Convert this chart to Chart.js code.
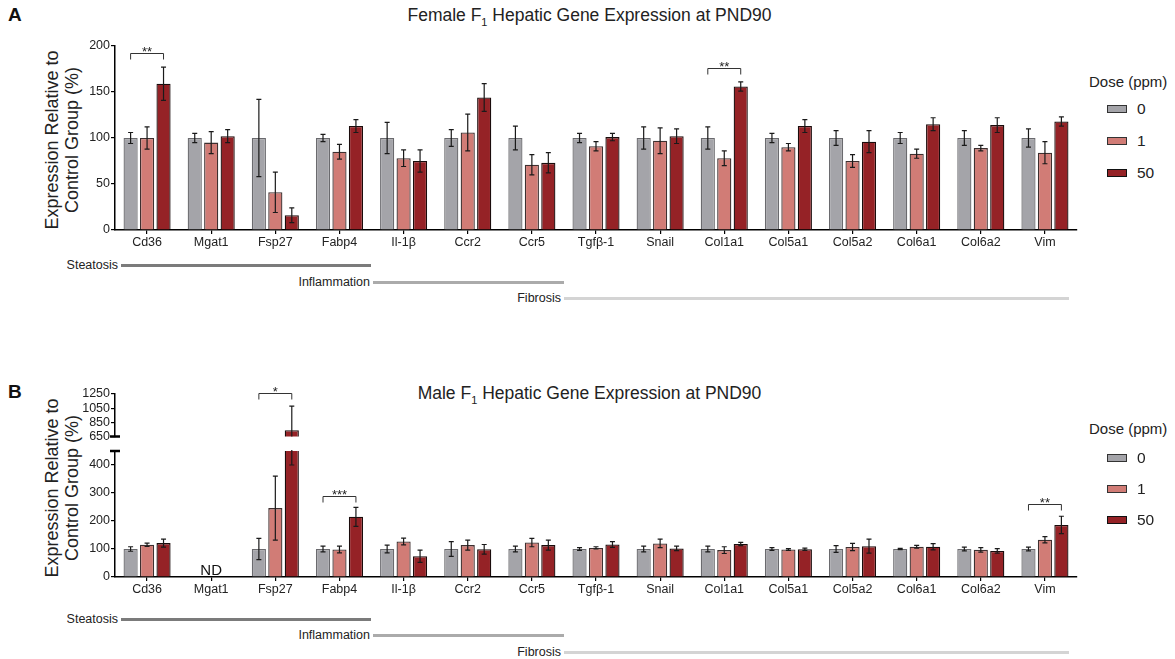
<!DOCTYPE html>
<html>
<head>
<meta charset="utf-8">
<script src="https://cdn.jsdelivr.net/npm/chart.js@4"></script>
<style>
body { margin: 0; width: 1175px; height: 659px; position: relative; background: #fff; overflow: hidden;
  font-family: Arial, "Liberation Sans", sans-serif; color: #222; }
canvas { position: absolute; }
.title { position: absolute; left: 0; width: 1179px; text-align: center; font-size: 17.5px; line-height: 20px; }
.title sub { font-size: 11px; line-height: 0; }
.panel { position: absolute; left: 8px; font-weight: bold; font-size: 19px; line-height: 22px; color: #111; }
.ytitle { position: absolute; width: 240px; height: 40px; font-size: 18px; line-height: 20px; text-align: center;
  transform: rotate(-90deg); white-space: nowrap; }
.leg-title { position: absolute; left: 1089px; font-size: 15px; line-height: 18px; }
.leg-box { position: absolute; left: 1107px; width: 20px; height: 8px; box-sizing: border-box; border: 1.5px solid #333; }
.leg-lbl { position: absolute; left: 1137px; font-size: 15.5px; line-height: 18px; }
.grp-lbl { position: absolute; left: 0; text-align: right; font-size: 12.5px; line-height: 16px; }
.grp-line { position: absolute; }
</style>
</head>
<body>

<div class="panel" style="top:4px">A</div>
<div class="title" style="top:5px">Female F<sub>1</sub> Hepatic Gene Expression at PND90</div>
<div class="ytitle" style="left:-58px;top:120px">Expression Relative to<br>Control Group (%)</div>
<canvas id="chartA" width="1032" height="216" style="left:55px;top:36px"></canvas>

<div class="leg-title" style="top:73px">Dose (ppm)</div>
<div class="leg-box" style="top:105px;background:#a4a4a9"></div><div class="leg-lbl" style="top:100px">0</div>
<div class="leg-box" style="top:137px;background:#d17c76"></div><div class="leg-lbl" style="top:132px">1</div>
<div class="leg-box" style="top:169px;background:#952226;border-color:#111"></div><div class="leg-lbl" style="top:164px">50</div>

<div class="grp-lbl" style="width:118px;top:257px">Steatosis</div>
<div class="grp-line" style="left:121px;top:264px;width:250px;height:3px;background:#7b7b7b"></div>
<div class="grp-lbl" style="width:370px;top:274px">Inflammation</div>
<div class="grp-line" style="left:373px;top:281px;width:191px;height:2.5px;background:#ababab"></div>
<div class="grp-lbl" style="width:561px;top:290px">Fibrosis</div>
<div class="grp-line" style="left:564px;top:297px;width:505px;height:2.5px;background:#d4d4d4"></div>

<div class="panel" style="top:381px">B</div>
<div class="title" style="top:383px">Male F<sub>1</sub> Hepatic Gene Expression at PND90</div>
<div class="ytitle" style="left:-58px;top:468px">Expression Relative to<br>Control Group (%)</div>
<canvas id="chartBHigh" width="1032" height="71" style="left:55px;top:374px"></canvas>
<canvas id="chartBLow" width="1032" height="158" style="left:55px;top:441px"></canvas>

<div class="leg-title" style="top:420px">Dose (ppm)</div>
<div class="leg-box" style="top:454px;background:#a4a4a9"></div><div class="leg-lbl" style="top:449px">0</div>
<div class="leg-box" style="top:485px;background:#d17c76"></div><div class="leg-lbl" style="top:480px">1</div>
<div class="leg-box" style="top:516px;background:#952226;border-color:#111"></div><div class="leg-lbl" style="top:511px">50</div>

<div class="grp-lbl" style="width:118px;top:611px">Steatosis</div>
<div class="grp-line" style="left:121px;top:618px;width:250px;height:3px;background:#7b7b7b"></div>
<div class="grp-lbl" style="width:370px;top:627px">Inflammation</div>
<div class="grp-line" style="left:373px;top:634px;width:191px;height:2.5px;background:#ababab"></div>
<div class="grp-lbl" style="width:561px;top:644px">Fibrosis</div>
<div class="grp-line" style="left:564px;top:651px;width:505px;height:2.5px;background:#d4d4d4"></div>

<script>
// Data
const genes = ['Cd36', 'Mgat1', 'Fsp27', 'Fabp4', 'Il-1β', 'Ccr2', 'Ccr5', 'Tgfβ-1', 'Snail', 'Col1a1', 'Col5a1', 'Col5a2', 'Col6a1', 'Col6a2', 'Vim'];
const doses = ['0', '1', '50'];

// Female means and error bars (% of control)
const femaleDose0  = [100, 100, 100, 100, 100, 100, 100, 100, 100, 100, 100, 100, 100, 100, 100];
const femaleDose1  = [100, 95, 41, 85, 78, 106, 71, 91, 97, 78, 90, 75, 83, 89, 84];
const femaleDose50 = [159, 102, 16, 113, 75, 144, 73, 101, 102, 156, 113, 96, 115, 114, 118];
const femaleErr0  = [6, 5, 42, 4, 17, 9, 13, 5, 12, 12, 5, 8, 6, 8, 10];
const femaleErr1  = [12, 12, 22, 8, 9, 20, 11, 5, 14, 8, 4, 7, 5, 3, 12];
const femaleErr50 = [18, 7, 8, 7, 12, 15, 11, 4, 8, 5, 7, 12, 7, 8, 5];

// Male means and error bars (Mgat1 not detected)
const maleDose0  = [100, null, 100, 100, 100, 100, 100, 100, 100, 100, 100, 100, 100, 100, 100];
const maleDose1  = [115, null, 246, 98, 127, 114, 123, 104, 120, 96, 98, 107, 108, 97, 133];
const maleDose50 = [121, null, 740, 215, 74, 99, 114, 116, 102, 118, 99, 110, 108, 93, 186];
const maleErr0  = [8, null, 38, 10, 14, 26, 10, 5, 10, 10, 5, 12, 2, 7, 7];
const maleErr1  = [6, null, 114, 12, 12, 18, 15, 4, 15, 12, 3, 13, 5, 8, 11];
const maleErr50 = [14, null, 340, 34, 22, 17, 18, 10, 8, 6, 4, 25, 11, 8, 31];

// Axis ticks
const femaleTicks = [0, 50, 100, 150, 200];
const maleLowTicks = [0, 100, 200, 300, 400];
const maleHighTicks = [650, 850, 1050, 1250];
const maleLowMax = 450;

// Significance brackets: gene, level (data units), label
const femaleSig = [['Cd36', 192, '**'], ['Col1a1', 176, '**']];
const maleSigLow = [['Fabp4', 290, '***'], ['Vim', 259, '**']];
const maleSigHigh = [['Fsp27', 1265, '*']];

const fills = ['#a4a4a9', '#d17c76', '#952226'];
const borders = ['#6a6a6e', '#3e3030', '#1a0c0c'];

Chart.defaults.font.family = 'Arial, "Liberation Sans", sans-serif';
Chart.defaults.font.size = 12.5;
Chart.defaults.color = '#222';

function makeDatasets(series) {
  return series.map((d, i) => ({
    label: doses[i],
    data: d,
    backgroundColor: fills[i],
    borderColor: borders[i],
    borderWidth: 1.3,
    categoryPercentage: 0.77,
    barPercentage: 0.86,
    clip: 0
  }));
}

// error bars, clipped to the plot area
function errorBars(errs) {
  return {
    id: 'errBars',
    afterDatasetsDraw(chart) {
      const ctx = chart.ctx, a = chart.chartArea, ys = chart.scales.y;
      ctx.save();
      ctx.beginPath();
      ctx.rect(a.left, a.top - 1, a.right - a.left, a.bottom - a.top + 1);
      ctx.clip();
      ctx.strokeStyle = '#1a1a1a';
      ctx.lineWidth = 1.2;
      chart.data.datasets.forEach((ds, i) => {
        const meta = chart.getDatasetMeta(i);
        ds.data.forEach((v, j) => {
          if (v == null) return;
          const e = errs[i][j];
          const x = meta.data[j].x;
          const y1 = ys.getPixelForValue(v + e), y2 = ys.getPixelForValue(v - e);
          ctx.beginPath();
          ctx.moveTo(x, y1); ctx.lineTo(x, y2);
          ctx.moveTo(x - 2.5, y1); ctx.lineTo(x + 2.5, y1);
          ctx.moveTo(x - 2.5, y2); ctx.lineTo(x + 2.5, y2);
          ctx.stroke();
        });
      });
      ctx.restore();
    }
  };
}

function brackets(list) {
  return {
    id: 'brackets',
    afterDraw(chart) {
      const ctx = chart.ctx, ys = chart.scales.y;
      ctx.save();
      ctx.strokeStyle = '#333';
      ctx.lineWidth = 1;
      ctx.fillStyle = '#222';
      ctx.font = '13px Arial, "Liberation Sans", sans-serif';
      ctx.textAlign = 'center';
      list.forEach(([gene, level, stars]) => {
        const j = genes.indexOf(gene);
        const x1 = chart.getDatasetMeta(0).data[j].x;
        const x2 = chart.getDatasetMeta(2).data[j].x;
        const y = Math.round(ys.getPixelForValue(level)) + 0.5;
        ctx.beginPath();
        ctx.moveTo(x1, y + 6); ctx.lineTo(x1, y); ctx.lineTo(x2, y); ctx.lineTo(x2, y + 6);
        ctx.stroke();
        ctx.fillText(stars, (x1 + x2) / 2, y + 2);
      });
      ctx.restore();
    }
  };
}

// short cross mark at the broken end of an axis
function breakMark(atTop) {
  return {
    id: 'breakMark',
    afterDraw(chart) {
      const ctx = chart.ctx, a = chart.chartArea;
      const y = atTop ? a.top : a.bottom;
      ctx.save();
      ctx.strokeStyle = '#000';
      ctx.lineWidth = 2.5;
      ctx.beginPath();
      ctx.moveTo(a.left - 5, y); ctx.lineTo(a.left + 5, y);
      ctx.stroke();
      ctx.restore();
    }
  };
}

const notDetected = {
  id: 'nd',
  afterDraw(chart) {
    const ctx = chart.ctx, xs = chart.scales.x;
    ctx.save();
    ctx.fillStyle = '#111';
    ctx.font = '15px Arial, "Liberation Sans", sans-serif';
    ctx.textAlign = 'center';
    genes.forEach((g, j) => {
      if (maleDose0[j] == null) ctx.fillText('ND', xs.getPixelForValue(j), chart.chartArea.bottom - 2.5);
    });
    ctx.restore();
  }
};

function yScale(min, max, tickList) {
  return {
    min: min, max: max,
    afterFit: s => { s.width = 60; },
    afterBuildTicks: s => { s.ticks = tickList.map(v => ({ value: v })); },
    grid: { drawOnChartArea: false, drawTicks: true, tickLength: 4, color: '#000', lineWidth: 1.2 },
    border: { display: true, color: '#000', width: 1.5 },
    ticks: { padding: 1, color: '#222', autoSkip: false, callback: v => String(v) }
  };
}

function xScale(show) {
  return {
    display: show,
    afterFit: s => { s.height = show ? 22 : 0; },
    grid: { offset: false, drawOnChartArea: false, drawTicks: true, tickLength: 4, color: '#000', lineWidth: 1.2 },
    border: { display: true, color: '#000', width: 1.5 },
    ticks: { padding: 1, color: '#222', maxRotation: 0, autoSkip: false }
  };
}

function baseOptions(yOpts, showX, padding) {
  return {
    responsive: false,
    animation: false,
    events: [],
    layout: { padding: padding },
    plugins: { legend: { display: false }, tooltip: { enabled: false } },
    scales: { x: xScale(showX), y: yOpts }
  };
}

// Panel A: female
new Chart(document.getElementById('chartA'), {
  type: 'bar',
  data: { labels: genes, datasets: makeDatasets([femaleDose0, femaleDose1, femaleDose50]) },
  options: baseOptions(yScale(0, 200, femaleTicks), true, { top: 10, right: 10, left: 0, bottom: 0 }),
  plugins: [errorBars([femaleErr0, femaleErr1, femaleErr50]), brackets(femaleSig)]
});

// Panel B: male, lower part of broken axis
new Chart(document.getElementById('chartBLow'), {
  type: 'bar',
  data: { labels: genes, datasets: makeDatasets([maleDose0, maleDose1, maleDose50]) },
  options: baseOptions(yScale(0, maleLowMax, maleLowTicks), true, { top: 10, right: 10, left: 0, bottom: 0 }),
  plugins: [errorBars([maleErr0, maleErr1, maleErr50]), brackets(maleSigLow), breakMark(true), notDetected]
});

// Panel B: upper part, only values above the break
const highMin = maleHighTicks[0];
const aboveBreak = arr => arr.map(v => (v != null && v > highMin ? v : null));
new Chart(document.getElementById('chartBHigh'), {
  type: 'bar',
  data: { labels: genes, datasets: makeDatasets([aboveBreak(maleDose0), aboveBreak(maleDose1), aboveBreak(maleDose50)]) },
  options: baseOptions(yScale(highMin, maleHighTicks[maleHighTicks.length - 1], maleHighTicks), false, { top: 20, right: 10, left: 0, bottom: 8 }),
  plugins: [errorBars([maleErr0, maleErr1, maleErr50]), brackets(maleSigHigh), breakMark(false)]
});
</script>
</body>
</html>
